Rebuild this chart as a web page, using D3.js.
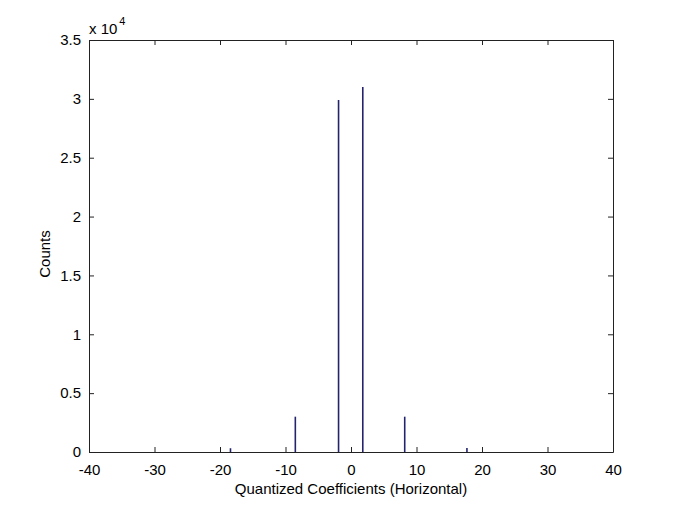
<!DOCTYPE html>
<html>
<head>
<meta charset="utf-8">
<script src="https://cdn.jsdelivr.net/npm/d3@7.9.0/dist/d3.min.js"></script>
<style>
  body { margin: 0; background: #fff; }
  text { font-family: "Liberation Sans", Arial, sans-serif; fill: #000; }
</style>
</head>
<body>
<svg id="chart" width="677" height="508"></svg>
<script>
// histogram bins (bin centre) and counts
const binCenters = [-18.4, -8.5, -1.9, 1.8, 8.2, 17.7];
const counts = [320, 3000, 29900, 31000, 3000, 330];

const xTicks = [-40, -30, -20, -10, 0, 10, 20, 30, 40];
const yTicks = [0, 5000, 10000, 15000, 20000, 25000, 30000, 35000];
const yTickLabels = ['0', '0.5', '1', '1.5', '2', '2.5', '3', '3.5'];

const plotLeft = 89, plotRight = 613, plotTop = 40, plotBottom = 452;
const fontSize = '15px';

const svg = d3.select('#chart');

const x = d3.scaleLinear().domain([-40, 40]).range([plotLeft, plotRight]);
const y = d3.scaleLinear().domain([0, 35000]).range([plotBottom, plotTop]);

// bars (thin vertical lines, like matlab's bar with many empty bins)
svg.append('g')
  .selectAll('line')
  .data(binCenters)
  .join('line')
  .attr('x1', d => x(d))
  .attr('x2', d => x(d))
  .attr('y1', y(0))
  .attr('y2', (d, i) => y(counts[i]))
  .attr('stroke', '#24246e')
  .attr('stroke-width', 1.6);

// axes - ticks pointing inward, box on all four sides
const tickLen = 5;
svg.append('g')
  .attr('transform', `translate(0,${plotBottom})`)
  .call(d3.axisBottom(x).tickValues(xTicks).tickSizeInner(-tickLen).tickSizeOuter(0).tickPadding(12)
    .tickFormat(d => String(d)));   // plain hyphen, like matlab

svg.append('g')
  .attr('transform', `translate(${plotLeft},0)`)
  .call(d3.axisLeft(y).tickValues(yTicks).tickSizeInner(-tickLen).tickSizeOuter(0).tickPadding(8)
    .tickFormat((d, i) => yTickLabels[i]));

svg.append('g')
  .attr('transform', `translate(0,${plotTop})`)
  .call(d3.axisTop(x).tickValues(xTicks).tickSizeInner(-tickLen).tickSizeOuter(0).tickFormat(''));

svg.append('g')
  .attr('transform', `translate(${plotRight},0)`)
  .call(d3.axisRight(y).tickValues(yTicks).tickSizeInner(-tickLen).tickSizeOuter(0).tickFormat(''));

svg.selectAll('.domain').attr('stroke', '#222').attr('stroke-width', 1);
svg.selectAll('.tick line').attr('stroke', '#222');
svg.selectAll('.tick text')
  .style('font-family', '"Liberation Sans", Arial, sans-serif')
  .style('font-size', fontSize)
  .attr('fill', '#000');

// exponent label
const expo = svg.append('text')
  .attr('x', 89)
  .attr('y', 34)
  .style('font-size', fontSize);
expo.append('tspan').text('x 10');
expo.append('tspan').attr('dx', 2).attr('dy', -9).style('font-size', '11px').text('4');

// axis labels
svg.append('text')
  .attr('x', (plotLeft + plotRight) / 2)
  .attr('y', 494)
  .attr('text-anchor', 'middle')
  .style('font-size', fontSize)
  .text('Quantized Coefficients (Horizontal)');

svg.append('text')
  .attr('transform', `translate(50,254) rotate(-90)`)
  .attr('text-anchor', 'middle')
  .style('font-size', fontSize)
  .text('Counts');
</script>
</body>
</html>
